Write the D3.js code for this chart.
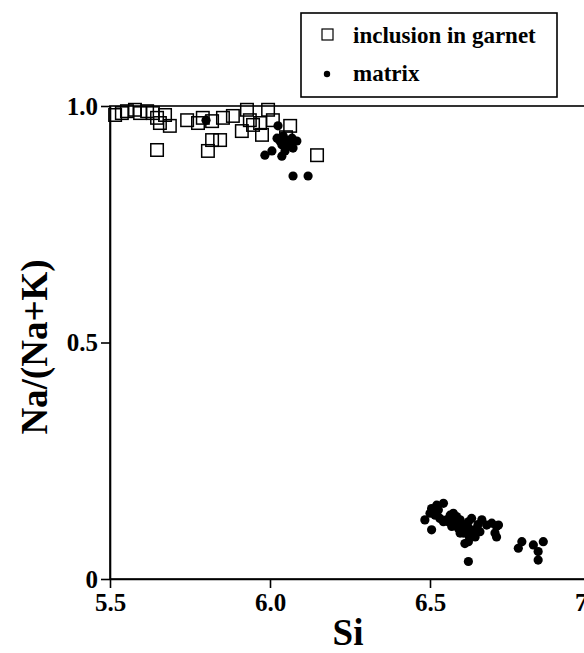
<!DOCTYPE html>
<html><head><meta charset="utf-8">
<script src="https://cdn.jsdelivr.net/npm/d3@7"></script>
<style>body{margin:0;background:#fff}svg{display:block}</style>
</head><body>
<script>
const xTicks = [5.5, 6.0, 6.5, 7.0];
const xTickLabels = ["5.5", "6.0", "6.5", "7.0"];
const yTicks = [0, 0.5, 1.0];
const yTickLabels = ["0", "0.5", "1.0"];
const xTitle = "Si";
const yTitle = "Na/(Na+K)";
const legendLabels = ["inclusion in garnet", "matrix"];

// inclusion in garnet: [Si, Na/(Na+K)]
const inclusionSi = [5.516,5.537,5.553,5.578,5.594,5.616,5.634,5.647,5.672,5.656,5.687,5.741,5.775,5.79,5.819,5.853,5.647,5.806,5.819,5.844,5.884,5.928,5.937,5.947,5.969,5.994,6.009,5.912,5.975,6.063,6.147,6.05];
const inclusionNa = [0.981,0.985,0.989,0.992,0.985,0.989,0.985,0.975,0.981,0.964,0.958,0.970,0.964,0.975,0.968,0.975,0.907,0.905,0.928,0.928,0.979,0.992,0.970,0.960,0.964,0.992,0.970,0.947,0.939,0.958,0.896,0.934];

// matrix
const matrixSi = [5.80,6.025,5.984,6.006,6.037,6.072,6.119,6.022,6.041,6.053,6.069,6.084,6.037,6.056,6.047,6.072,6.031,6.062,
 6.505,6.521,6.542,6.526,6.500,6.516,6.484,6.505,6.531,6.542,6.552,6.557,6.563,6.573,6.583,6.594,6.578,6.568,6.589,6.594,6.604,6.620,6.630,6.604,6.620,6.635,6.641,6.646,6.656,6.662,6.677,6.693,6.708,6.703,6.620,6.609,6.620,6.714,6.708,6.787,6.776,6.823,6.854,6.838,6.838,6.61,6.65,6.59,6.57,6.625];
const matrixNa = [0.970,0.958,0.896,0.905,0.894,0.852,0.852,0.932,0.937,0.928,0.932,0.926,0.918,0.915,0.905,0.911,0.926,0.922,
 0.149,0.156,0.160,0.146,0.139,0.135,0.125,0.104,0.128,0.121,0.125,0.121,0.135,0.139,0.132,0.125,0.118,0.111,0.107,0.097,0.114,0.121,0.128,0.097,0.093,0.100,0.089,0.107,0.100,0.125,0.114,0.118,0.111,0.097,0.079,0.075,0.037,0.114,0.089,0.079,0.065,0.072,0.079,0.058,0.040,0.110,0.115,0.115,0.128,0.105];

const W = 584, H = 653;
const svg = d3.select("body").append("svg").attr("width", W).attr("height", H);
const font = "'Liberation Serif','Times New Roman',serif";

const x = d3.scaleLinear().domain([5.5, 7.0]).range([110, 590]);
const y = d3.scaleLinear().domain([0, 1.0]).range([579, 106]);

// frame
svg.append("rect").attr("x", x(5.5)).attr("y", y(1.0))
  .attr("width", x(7.0) - x(5.5)).attr("height", y(0) - y(1.0))
  .attr("fill", "none").attr("stroke", "#000").attr("stroke-width", 1.6);

const xAxis = svg.append("g").attr("transform", `translate(0,${y(0)})`)
  .call(d3.axisBottom(x).tickValues(xTicks).tickFormat((d, i) => xTickLabels[i]).tickSize(9).tickSizeOuter(0).tickPadding(5));
const yAxis = svg.append("g").attr("transform", `translate(${x(5.5)},0)`)
  .call(d3.axisLeft(y).tickValues(yTicks).tickFormat((d, i) => yTickLabels[i]).tickSize(9).tickSizeOuter(0).tickPadding(3));
[xAxis, yAxis].forEach(g => {
  g.select(".domain").attr("stroke-width", 1.6);
  g.selectAll(".tick line").attr("stroke-width", 1.6);
  g.selectAll(".tick text").attr("font-family", font).attr("font-weight", "bold")
    .attr("font-size", 25).attr("fill", "#000");
});

svg.append("text").attr("x", 348).attr("y", 645).attr("text-anchor", "middle")
  .attr("font-family", font).attr("font-weight", "bold").attr("font-size", 37).text(xTitle);
svg.append("text").attr("transform", "translate(47,347) rotate(-90)").attr("text-anchor", "middle")
  .attr("font-family", font).attr("font-weight", "bold").attr("font-size", 37).text(yTitle);

// markers
const sq = 12.5;
svg.append("g").selectAll("rect").data(inclusionSi.map((s, i) => [s, inclusionNa[i]])).join("rect")
  .attr("x", d => x(d[0]) - sq / 2).attr("y", d => y(d[1]) - sq / 2)
  .attr("width", sq).attr("height", sq).attr("fill", "none").attr("stroke", "#000").attr("stroke-width", 1.5);
svg.append("g").selectAll("circle").data(matrixSi.map((s, i) => [s, matrixNa[i]])).join("circle")
  .attr("cx", d => x(d[0])).attr("cy", d => y(d[1])).attr("r", 4.6).attr("fill", "#000");

// legend
const lg = svg.append("g");
lg.append("rect").attr("x", 301).attr("y", 13).attr("width", 256).attr("height", 84)
  .attr("fill", "#fff").attr("stroke", "#000").attr("stroke-width", 1.6);
lg.append("rect").attr("x", 322).attr("y", 29).attr("width", 11).attr("height", 11)
  .attr("fill", "none").attr("stroke", "#000").attr("stroke-width", 1.2);
lg.append("circle").attr("cx", 327).attr("cy", 74).attr("r", 3.2).attr("fill", "#000");
lg.selectAll("text").data(legendLabels).join("text")
  .attr("x", 353).attr("y", (d, i) => 43 + i * 38)
  .attr("font-family", font).attr("font-weight", "bold").attr("font-size", 23).text(d => d);
</script>
</body></html>
